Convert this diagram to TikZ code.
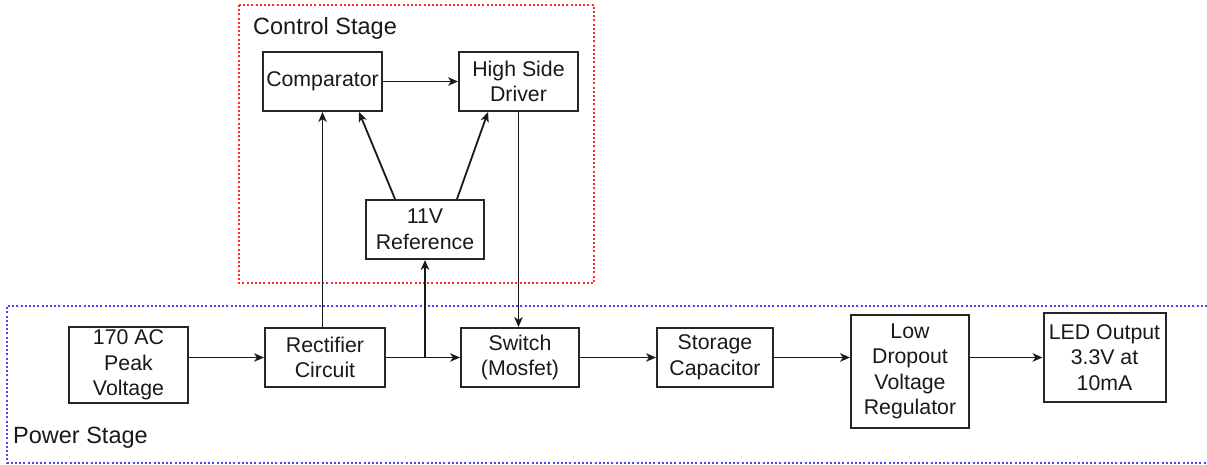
\documentclass[tikz,border=0pt]{standalone}
\usepackage{fontspec}
\setmainfont{Liberation Sans}
\usetikzlibrary{arrows.meta,calc}
\begin{document}
\begin{tikzpicture}[x=1pt,y=-1pt,
  blk/.style={draw=black!85,line width=2pt,rectangle,inner sep=0pt,align=center,
     font=\fontsize{21.3}{25.5}\selectfont,text=black!90},
  arr/.style={line width=1.8pt,draw=black!90,-{Stealth[length=10pt,width=8.5pt,inset=3pt]}},
  stagelbl/.style={anchor=west,inner sep=0pt,font=\fontsize{23.5}{28}\selectfont,text=black!90}]
\useasboundingbox (0,0) rectangle (1207,465);
\definecolor{redframe}{RGB}{255,40,40}
\definecolor{blueframe}{RGB}{70,70,255}
% frames
\draw[redframe,line width=2pt,dash pattern=on 2pt off 2.2pt] (239,5) rectangle (594,283);
\draw[blueframe,line width=2pt,dash pattern=on 2pt off 2.2pt] (1207,306) -- (7,306) -- (7,463) -- (1207,463);
\node[stagelbl] (cs) at (253,28) {Control Stage};
\node[stagelbl] (ps) at (13,438) {Power Stage};
% blocks
\node[blk,minimum width=119pt,minimum height=59pt] (comp) at (322.5,81.5) {Comparator};
\node[blk,minimum width=119pt,minimum height=59pt] (hsd) at (518.5,81.5) {High Side\\Driver};
\node[blk,minimum width=118pt,minimum height=59pt] (ref) at (425,229.5) {11V\\Reference};
\node[blk,minimum width=119pt,minimum height=76pt] (ac) at (128.5,365) {170 AC\\Peak\\Voltage};
\node[blk,minimum width=120pt,minimum height=59pt] (rect) at (325,357.5) {Rectifier\\Circuit};
\node[blk,minimum width=118pt,minimum height=59pt] (sw) at (520,357.5) {Switch\\(Mosfet)};
\node[blk,minimum width=116pt,minimum height=59pt] (cap) at (715,357.5) {Storage\\Capacitor};
\node[blk,minimum width=118pt,minimum height=113pt] (ldo) at (910,371.5) {Low\\Dropout\\Voltage\\Regulator};
\node[blk,minimum width=122pt,minimum height=89pt] (led) at (1104.5,357.5) {LED Output\\3.3V at\\10mA};
% connectors
\coordinate (j) at (ref.south |- rect.east);
\draw[arr] (ac.east |- rect.west) -- (rect.west);
\draw[arr] (rect.east) -- (sw.west);
\draw[arr] (j) -- (ref.south);
\draw[arr] (rect.north -| comp.south) -- (comp.south);
\draw[arr] ($(ref.north west)+(30,0)$) -- ($(comp.south east)+(-24,0)$);
\draw[arr] ($(ref.north east)+(-28,0)$) -- ($(hsd.south west)+(30,0)$);
\draw[arr] (comp.east) -- (hsd.west);
\draw[arr] (hsd.south) -- (hsd.south |- sw.north);
\draw[arr] (sw.east) -- (cap.west);
\draw[arr] (cap.east) -- (ldo.west |- cap.east);
\draw[arr] (ldo.east |- led.west) -- (led.west);
\end{tikzpicture}
\end{document}
